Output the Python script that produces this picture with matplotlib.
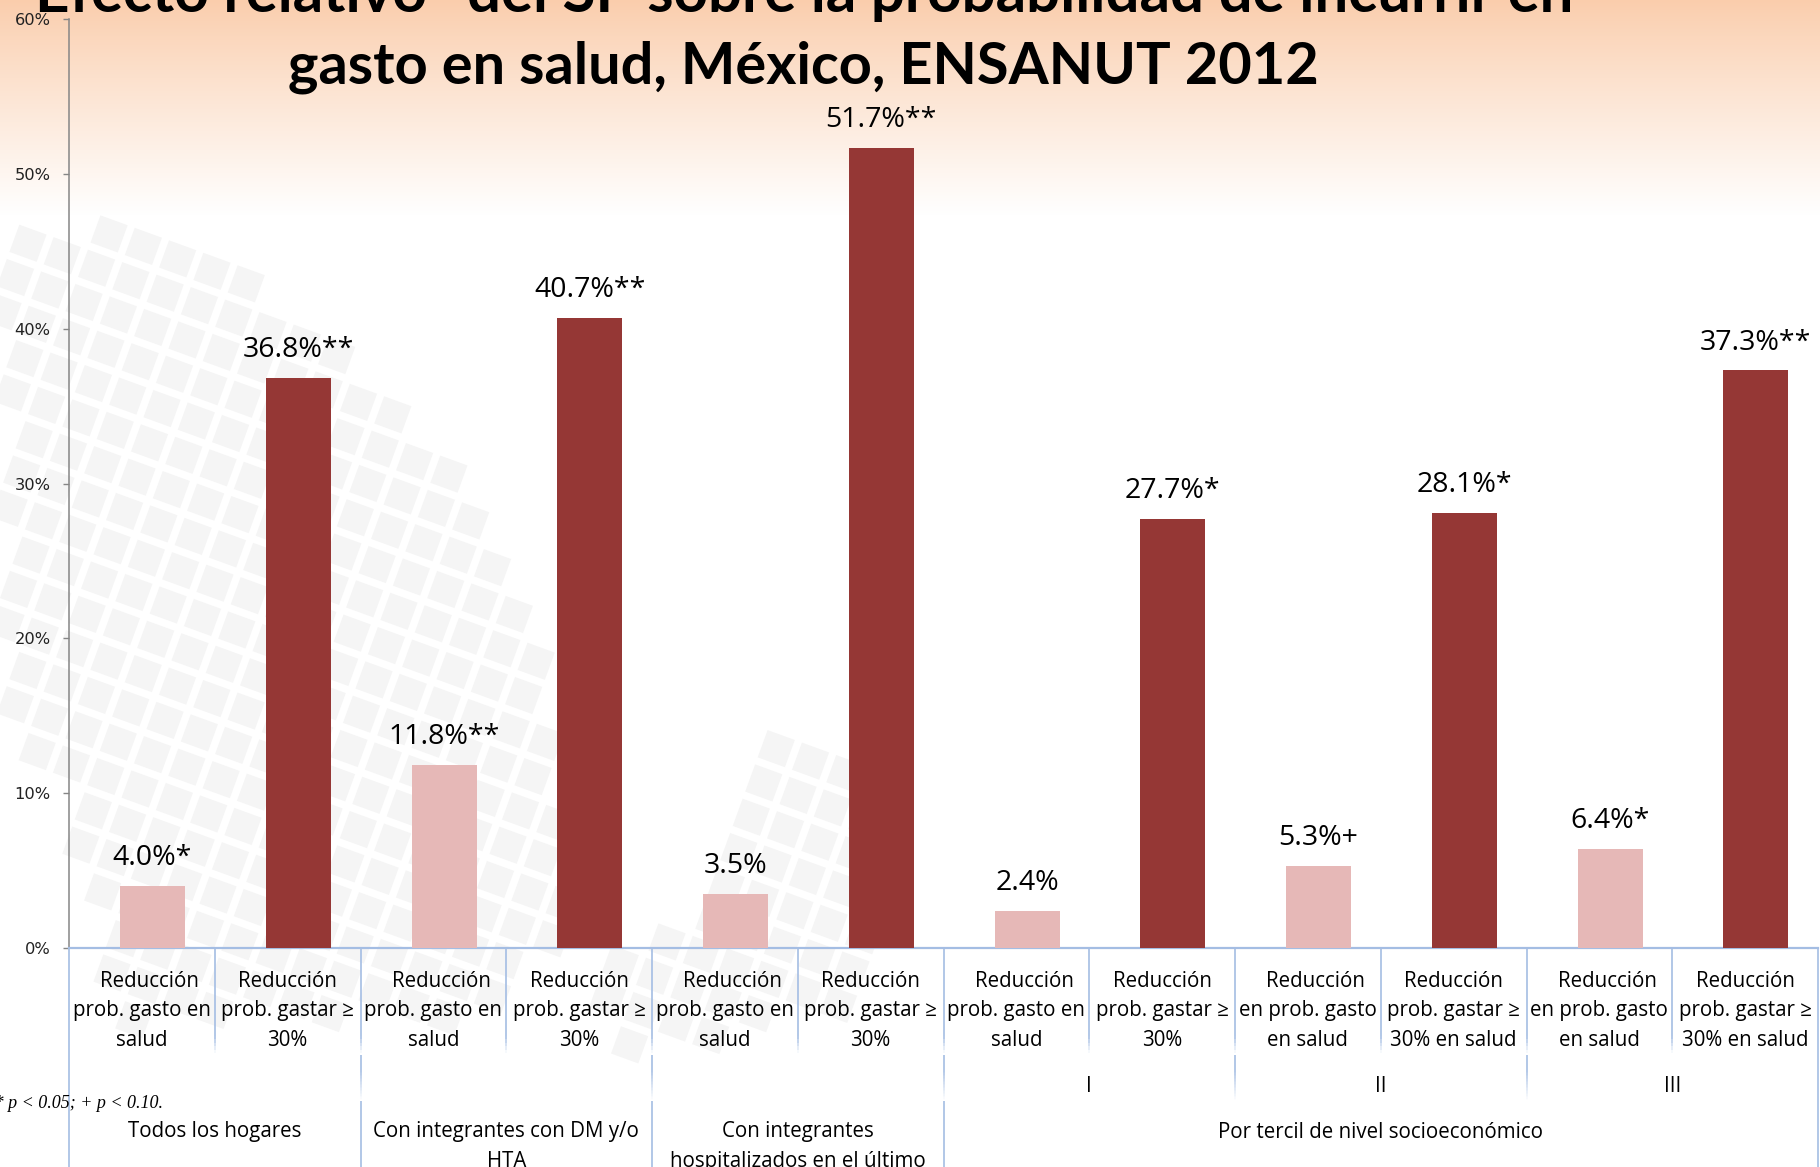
import matplotlib
matplotlib.use("Agg")
import matplotlib.pyplot as plt
import numpy as np
from matplotlib import transforms as mtransforms
from matplotlib.collections import LineCollection, PatchCollection
from matplotlib.patches import Polygon
from matplotlib.path import Path

# ---------------- data ----------------
values = [4.0, 36.8, 11.8, 40.7, 3.5, 51.7, 2.4, 27.7, 5.3, 28.1, 6.4, 37.3]
significance = ["*", "**", "**", "**", "", "**", "", "*", "+", "*", "*", "**"]
series = ["gasto", "gastar30"] * 6

lab_gasto = "Reducción\nprob. gasto en\nsalud"
lab_gastar = "Reducción\nprob. gastar ≥\n30%"
lab_gasto_t = "Reducción\nen prob. gasto\nen salud"
lab_gastar_t = "Reducción\nprob. gastar ≥\n30% en salud"
cat_labels = [lab_gasto, lab_gastar, lab_gasto, lab_gastar, lab_gasto, lab_gastar,
              lab_gasto, lab_gastar, lab_gasto_t, lab_gastar_t, lab_gasto_t, lab_gastar_t]

tercil_names = ["I", "II", "III"]
tercil_sizes = [2, 2, 2]

group_names = ["Todos los hogares",
               "Con integrantes con DM y/o\nHTA",
               "Con integrantes\nhospitalizados en el último\naño",
               "Por tercil de nivel socioeconómico"]
group_sizes = [2, 2, 2, 6]

yticks = [0, 10, 20, 30, 40, 50, 60]

title_line1 = "Efecto relativo* del SP sobre la probabilidad de incurrir en"
title_line2 = "gasto en salud, México, ENSANUT 2012"
footnote = "** p < 0.01; * p < 0.05; + p < 0.10."

colors = {"gasto": "#e6b8b7", "gastar30": "#953735"}

# ---------------- figure ----------------
plt.rcParams["ytick.labelsize"] = 12.5
W, H = 1820, 1167
DPI = 100
fig = plt.figure(figsize=(W / DPI, H / DPI), dpi=DPI)
renderer = fig.canvas.get_renderer()


def fy(p):
    return 1 - p / H


# background: gradient + faint squares
bg = fig.add_axes([0, 0, 1, 1], zorder=-10)
bg.set_xlim(0, W)
bg.set_ylim(H, 0)
bg.axis("off")
yy = np.arange(H)
t = np.clip(yy / 215.0, 0, 1) ** 0.9
top = np.array([250, 205, 172]) / 255.0
white = np.array([1.0, 1.0, 1.0])
grad = top[None, :] * (1 - t[:, None]) + white[None, :] * t[:, None]
grad = np.repeat(grad[:, None, :], 2, axis=1)
bg.imshow(grad, extent=(0, W, H, 0), aspect="auto", interpolation="bilinear")

theta = np.deg2rad(20)
u = np.array([np.cos(theta), np.sin(theta)])
v = np.array([-np.sin(theta), np.cos(theta)])
pitch, side = 36.5, 29.0
regions = [
    Path([(0, 221), (197, 232), (383, 383), (487, 522), (557, 720), (569, 905),
          (511, 1021), (116, 1021), (70, 812), (0, 720)]),
    Path([(760, 715), (875, 745), (875, 1000), (720, 1045), (610, 1045), (600, 950), (700, 900)]),
]
polys = []
for i in range(-60, 60):
    for j in range(-60, 60):
        c = i * pitch * u + j * pitch * v
        if any(r.contains_point(c) for r in regions):
            h = side / 2
            pts = [c + a * h * u + b * h * v for a, b in [(-1, -1), (1, -1), (1, 1), (-1, 1)]]
            polys.append(Polygon(pts, closed=True))
bg.add_collection(PatchCollection(polys, facecolor="#f5f5f5", edgecolor="none"))

# main axes
ax = fig.add_axes([69 / W, fy(948), (1818 - 69) / W, (948 - 19) / H])
ax.patch.set_visible(False)
n = len(values)
x = np.arange(n)
ax.set_xlim(-0.5, n - 0.5)
ax.set_ylim(0, 60)

bar_x = x + 0.073
ax.bar(bar_x, values, width=0.446, color=[colors[s] for s in series], zorder=3)

for bx, val, sig in zip(bar_x, values, significance):
    ax.annotate(f"{val:.1f}%{sig}", xy=(bx, val), xytext=(0, 15), textcoords="offset points",
                ha="center", va="baseline", fontsize=20.5, family="Open Sans", color="black")

ax.set_xticks([])
ax.set_yticks(yticks)
ax.set_yticklabels([f"{t}%" for t in yticks])
ax.tick_params(axis="y", length=4.3, width=1, color="#868686", pad=9,
               labelsize=12.5, labelcolor="#222222")
for s in ["top", "right"]:
    ax.spines[s].set_visible(False)
ax.spines["left"].set_color("#868686")
ax.spines["left"].set_linewidth(1.1)
ax.spines["bottom"].set_color("#a4bde3")
ax.spines["bottom"].set_linewidth(1.6)

# make the tick labels as wide as in the reference (~36 px for "40%")
fig.canvas.draw()
lab40 = [lb for lb in ax.get_yticklabels() if lb.get_text() == "40%"][0]
wpx = lab40.get_window_extent(renderer).width
if wpx > 0:
    ax.tick_params(axis="y", labelsize=12.5 * 36.0 / wpx)

trans = mtransforms.blended_transform_factory(ax.transData, fig.transFigure)
sep_rgb = matplotlib.colors.to_rgb("#a4bde3")


def sep_line(xd, p0, p1, fade):
    m = 30
    ys = np.linspace(p0, p1, m + 1)
    segs, cols = [], []
    for a, b in zip(ys[:-1], ys[1:]):
        mid = (a + b) / 2
        alpha = 1.0 if fade <= 0 else float(np.clip((p1 - mid) / fade, 0, 1))
        segs.append([(xd, fy(a)), (xd, fy(b))])
        cols.append((*sep_rgb, alpha))
    lc = LineCollection(segs, colors=cols, linewidths=1.2, transform=trans)
    lc.set_clip_on(False)
    ax.add_collection(lc, autolim=False)


# separators
group_bounds = list(np.cumsum([0] + group_sizes))
tercil_start = group_bounds[-2]
tercil_bounds = [tercil_start + b for b in np.cumsum([0] + tercil_sizes)]
for k in range(n + 1):
    xd = k - 0.5
    if k in (0, n):
        sep_line(xd, 949, H, 0)
        continue
    sep_line(xd, 949, 1053, 16)
    if k in group_bounds or k in tercil_bounds:
        sep_line(xd, 1055, 1100, 30)
    if k in group_bounds:
        sep_line(xd, 1101, H, 0)

# level-1 labels
line_gap = 29.3
first_shift = 8.0 / 145.75  # first line of "gasto" labels sits a bit right
for i, lab in enumerate(cat_labels):
    for j, line in enumerate(lab.split("\n")):
        dx = first_shift if (j == 0 and series[i] == "gasto") else 0.0
        ax.text(i + dx, fy(987 + j * line_gap), line, transform=trans, ha="center",
                va="baseline", fontsize=14.8, family="Open Sans", color="black", clip_on=False)

# level-2 labels (terciles)
for name, a, b in zip(tercil_names, tercil_bounds[:-1], tercil_bounds[1:]):
    ax.text((a + b - 1) / 2, fy(1092), name, transform=trans, ha="center", va="baseline",
            fontsize=14.8, family="Open Sans", color="black", clip_on=False)

# level-3 labels (groups)
for name, a, b in zip(group_names, group_bounds[:-1], group_bounds[1:]):
    for j, line in enumerate(name.split("\n")):
        ax.text((a + b - 1) / 2, fy(1137.5 + j * line_gap), line, transform=trans,
                ha="center", va="baseline", fontsize=14.8, family="Open Sans",
                color="black", clip_on=False)

# title
t2 = fig.text(803 / W, fy(83), title_line2, ha="center", va="baseline", fontsize=40,
              fontweight="bold", family="Lato", color="black")
t2.set_fontsize(40 * 1032 / t2.get_window_extent(renderer).width)
t1 = fig.text(804 / W, fy(12), title_line1, ha="center", va="baseline", fontsize=40,
              fontweight="bold", family="Lato", color="black")
t1.set_fontsize(40 * 1538 / t1.get_window_extent(renderer).width)

# footnote
fig.text(163 / W, fy(1108), footnote, ha="right", va="baseline", fontsize=13,
         family="Liberation Serif", style="italic", color="black")

fig.savefig("out.png", dpi=DPI)
